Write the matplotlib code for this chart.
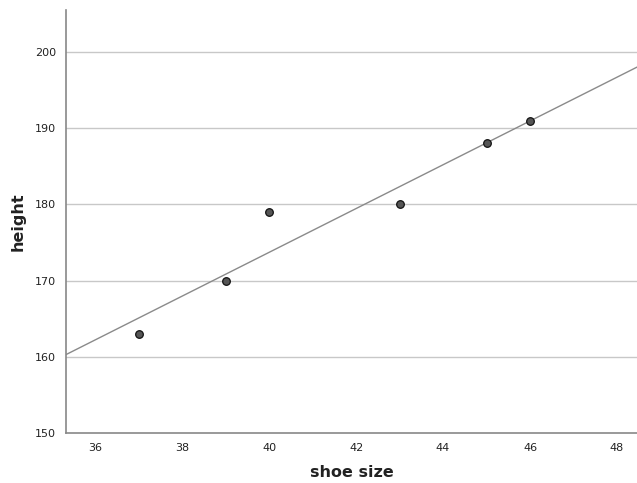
import matplotlib
matplotlib.use("Agg")
import matplotlib.pyplot as plt
import numpy as np

shoe_size = [37, 39, 40, 43, 45, 46]
height = [163, 170, 179, 180, 188, 191]
x_ticks = [36, 38, 40, 42, 44, 46, 48]
y_ticks = [150, 160, 170, 180, 190, 200]

fig = plt.figure(figsize=(6.37, 4.83), dpi=100)
ax = fig.add_axes([0.1036, 0.1035, 0.8964, 0.8755])

xlim = (35.33, 48.46)
ylim = (150, 205.5)

for yt in y_ticks[1:]:
    ax.axhline(yt, color="#c8c8c8", lw=1.0, zorder=1)

slope, intercept = np.polyfit(shoe_size, height, 1)
xs = np.array(xlim)
ax.plot(xs, slope * xs + intercept, color="#8a8a8a", lw=1.0, zorder=2)

ax.scatter(shoe_size, height, s=30, facecolor="#555555", edgecolor="#111111",
           linewidths=0.9, zorder=3)

ax.set_xlim(*xlim)
ax.set_ylim(*ylim)
ax.set_xticks(x_ticks)
ax.set_yticks(y_ticks)
ax.tick_params(length=0, labelsize=8, colors="#222222", pad=7)
for s in ["top", "right"]:
    ax.spines[s].set_visible(False)
for s in ["left", "bottom"]:
    ax.spines[s].set_color("#888888")
    ax.spines[s].set_linewidth(1.2)

ax.set_xlabel("shoe size", fontsize=11.5, fontweight="bold", color="#222222", labelpad=9)
ax.set_ylabel("height", fontsize=11.5, fontweight="bold", color="#222222", labelpad=7)

fig.savefig("out.png", dpi=100)
